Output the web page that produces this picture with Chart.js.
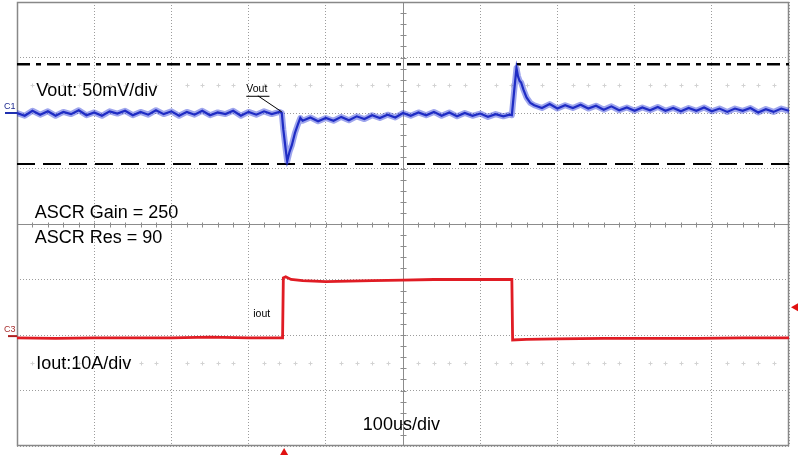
<!DOCTYPE html>
<html lang="en">
<head>
<meta charset="UTF-8" />
<title>Load transient - Vout / Iout</title>
<script src="https://cdn.jsdelivr.net/npm/chart.js@4"></script>
<style>
  html, body { margin: 0; padding: 0; background: #fff; }
  #scope { display: block; }
</style>
</head>
<body>
<canvas id="scope" width="800" height="456"></canvas>
<script>
// time in us (100us/div), amplitude in screen divisions (8 div tall)
const voutTime = [
  -500, -490, -480, -470, -460, -450, -440, -430, -420, -410, -400, -390,
  -380, -370, -360, -350, -340, -330, -320, -310, -300, -290, -280, -270,
  -260, -250, -240, -230, -220, -210, -200, -190, -180, -170, -160,
  -157, -155, -152, -150, -147, -144, -140, -136, -133,
  -130, -120, -110, -100, -90, -80, -70, -60, -50, -40, -30, -20, -10,
  0, 10, 20, 30, 40, 50, 60, 70, 80, 90, 100, 110, 120, 130, 138,
  141, 144, 147, 149, 151, 153, 156, 160, 165, 170,
  180, 190, 200, 210, 220, 230, 240, 250, 260, 270, 280, 290, 300, 310,
  320, 330, 340, 350, 360, 370, 380, 390, 400, 410, 420, 430, 440, 450,
  460, 470, 480, 490, 500
];
const voutDiv = [
  2.00, 1.95, 2.04, 1.97, 2.03, 1.95, 2.02, 1.98, 2.05, 1.96, 2.01, 1.95,
  2.03, 1.99, 2.04, 1.96, 2.02, 1.97, 2.05, 1.98, 2.03, 1.95, 2.02, 1.97,
  2.04, 1.96, 2.01, 1.98, 2.04, 1.95, 2.02, 1.97, 2.03, 1.98, 2.02,
  2.00, 1.70, 1.35, 1.13, 1.30, 1.42, 1.64, 1.80, 1.91,
  1.86, 1.92, 1.85, 1.91, 1.86, 1.93, 1.87, 1.94, 1.89, 1.96, 1.91, 1.97, 1.92,
  2.00, 1.95, 2.01, 1.96, 2.02, 1.95, 2.01, 1.94, 2.00, 1.95, 1.99, 1.93, 1.98, 1.94, 1.97,
  1.96, 2.40, 2.81, 2.66, 2.58, 2.55, 2.42, 2.28, 2.18, 2.14,
  2.09, 2.16, 2.08, 2.14, 2.09, 2.15, 2.08, 2.13, 2.06, 2.12, 2.05, 2.10, 2.04, 2.10,
  2.05, 2.11, 2.04, 2.09, 2.03, 2.09, 2.04, 2.10, 2.03, 2.08, 2.02, 2.08, 2.04, 2.09,
  2.01, 2.07, 2.02, 2.08, 2.04
];
const ioutTime = [
  -500, -450, -400, -350, -300, -250, -200, -156, -155, -152, -145, -130,
  -100, -70, -40, 0, 40, 80, 120, 141, 142, 160, 200, 260, 320, 380, 440, 500
];
const ioutDiv = [
  -2.05, -2.06, -2.05, -2.05, -2.05, -2.04, -2.05, -2.05, -0.97, -0.95, -1.00, -1.02,
  -1.04, -1.03, -1.02, -1.01, -1.00, -1.00, -1.00, -1.00, -2.09, -2.08, -2.07, -2.06,
  -2.06, -2.06, -2.05, -2.05
];
const cursorHigh = 2.88;
const cursorLow = 1.08;
const triggerTime = -154;
const triggerLevel = -1.5;
const offsetC1 = 2.0;
const offsetC3 = -2.02;

const toPoints = (xs, ys) => xs.map((x, i) => ({ x: x, y: ys[i] }));
const flat = (v) => [{ x: -500, y: v }, { x: 500, y: v }];

const FONT = '"Liberation Sans", Arial, sans-serif';

// scope graticule extras: frame, centre axes with minor ticks, sub-division crosses
const graticule = {
  id: 'graticule',
  beforeDatasetsDraw(chart) {
    const { ctx, chartArea: a, scales: { x, y } } = chart;
    ctx.save();
    ctx.lineWidth = 1;

    ctx.strokeStyle = '#d2d2d2';
    [2.5, -2.5].forEach(v => {
      const py = Math.round(y.getPixelForValue(v)) + 0.5;
      for (let i = -24; i <= 24; i++) {
        if (i % 5 === 0) continue;
        const px = Math.round(x.getPixelForValue(i * 20)) + 0.5;
        ctx.beginPath();
        ctx.moveTo(px - 2, py); ctx.lineTo(px + 2, py);
        ctx.moveTo(px, py - 2); ctx.lineTo(px, py + 2);
        ctx.stroke();
      }
    });

    ctx.strokeStyle = '#8c8c8c';
    const cx = Math.round(x.getPixelForValue(0)) + 0.5;
    const cy = Math.round(y.getPixelForValue(0)) + 0.5;
    ctx.beginPath();
    ctx.moveTo(cx, a.top); ctx.lineTo(cx, a.bottom);
    ctx.moveTo(a.left, cy); ctx.lineTo(a.right, cy);
    for (let i = -19; i <= 19; i++) {
      const py = Math.round(y.getPixelForValue(i / 5)) + 0.5;
      ctx.moveTo(cx - 3, py); ctx.lineTo(cx + 3, py);
    }
    for (let i = -24; i <= 24; i++) {
      const px = Math.round(x.getPixelForValue(i * 20)) + 0.5;
      ctx.moveTo(px, cy - 2); ctx.lineTo(px, cy + 3);
    }
    ctx.stroke();

    ctx.strokeStyle = '#888';
    ctx.lineWidth = 1.5;
    ctx.strokeRect(a.left + 0.5, a.top + 0.5, a.width - 1, a.height - 1);
    ctx.restore();
  },
  afterDatasetsDraw(chart) {
    const { ctx, chartArea: a, scales: { x, y } } = chart;
    const px = t => x.getPixelForValue(t);
    const py = v => y.getPixelForValue(v);
    ctx.save();

    ctx.fillStyle = '#000';
    ctx.textBaseline = 'alphabetic';
    ctx.font = '18px ' + FONT;
    ctx.fillText('Vout: 50mV/div', px(-475), py(2.31));
    ctx.fillText('ASCR Gain = 250', px(-477), py(0.11));
    ctx.fillText('ASCR Res = 90', px(-477), py(-0.34));
    ctx.fillText('Iout:10A/div', px(-475), py(-2.61));
    ctx.fillText('100us/div', px(-52), py(-3.71));

    // small trace labels
    ctx.font = '10.5px ' + FONT;
    ctx.fillText('Vout', px(-203), py(2.37));
    ctx.fillText('iout', px(-194), py(-1.68));
    ctx.strokeStyle = '#000';
    ctx.lineWidth = 1;
    ctx.beginPath();
    ctx.moveTo(px(-203), py(2.31) + 0.5); ctx.lineTo(px(-173), py(2.31) + 0.5);
    ctx.moveTo(px(-188), py(2.31)); ctx.lineTo(px(-157), py(2.02));
    ctx.stroke();

    // channel markers on the left
    ctx.font = '9px ' + FONT;
    ctx.lineWidth = 2;
    ctx.strokeStyle = '#2030b0';
    ctx.fillStyle = '#1e2a90';
    ctx.beginPath(); ctx.moveTo(5, py(offsetC1)); ctx.lineTo(a.left, py(offsetC1)); ctx.stroke();
    ctx.fillText('C1', 4, py(offsetC1) - 4);
    ctx.strokeStyle = '#b02020';
    ctx.fillStyle = '#a83030';
    ctx.beginPath(); ctx.moveTo(8, py(offsetC3)); ctx.lineTo(a.left, py(offsetC3)); ctx.stroke();
    ctx.fillText('C3', 4, py(offsetC3) - 4);

    // trigger position and level
    ctx.fillStyle = '#e01010';
    const tx = px(triggerTime);
    ctx.beginPath();
    ctx.moveTo(tx, a.bottom + 2); ctx.lineTo(tx + 4, a.bottom + 9); ctx.lineTo(tx - 4, a.bottom + 9);
    ctx.closePath(); ctx.fill();
    const ty = py(triggerLevel);
    ctx.beginPath();
    ctx.moveTo(a.right + 2, ty); ctx.lineTo(a.right + 9, ty - 4); ctx.lineTo(a.right + 9, ty + 4);
    ctx.closePath(); ctx.fill();
    ctx.restore();
  }
};

const gridOpts = { color: '#9c9c9c', lineWidth: 1, drawTicks: false };
const borderOpts = { display: false, dash: [1, 2] };

new Chart(document.getElementById('scope').getContext('2d'), {
  type: 'line',
  data: {
    datasets: [
      { label: 'Vout', data: toPoints(voutTime, voutDiv), borderColor: '#1f2cc4', borderWidth: 2.2 },
      // wide translucent copy of the same trace stands in for the scope's noise band
      {
        label: 'Vout band', data: toPoints(voutTime, voutDiv),
        borderColor: 'rgba(40,55,215,0.45)', borderWidth: 6,
        borderJoinStyle: 'round', borderCapStyle: 'round'
      },
      { label: 'Iout', data: toPoints(ioutTime, ioutDiv), borderColor: '#e01c24', borderWidth: 2.8 },
      { label: 'cursor high', data: flat(cursorHigh), borderColor: '#000', borderWidth: 2.5, borderDash: [13, 6, 5, 6] },
      { label: 'cursor low', data: flat(cursorLow), borderColor: '#000', borderWidth: 2, borderDash: [18, 8] }
    ]
  },
  options: {
    responsive: false,
    animation: false,
    events: [],
    layout: { padding: { left: 17, right: 11, top: 2, bottom: 10 } },
    elements: { point: { radius: 0 }, line: { tension: 0, fill: false } },
    plugins: { legend: { display: false }, tooltip: { enabled: false } },
    scales: {
      x: {
        type: 'linear', min: -500, max: 500,
        ticks: { display: false, stepSize: 100 },
        grid: gridOpts, border: borderOpts
      },
      y: {
        type: 'linear', min: -4, max: 4,
        ticks: { display: false, stepSize: 1 },
        grid: gridOpts, border: borderOpts
      }
    }
  },
  plugins: [graticule]
});
</script>
</body>
</html>
